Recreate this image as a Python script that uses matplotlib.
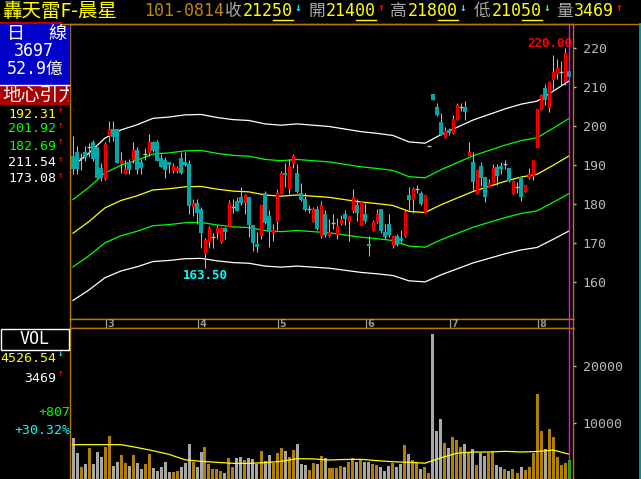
import numpy as np
import matplotlib
matplotlib.use("Agg")
import matplotlib.pyplot as plt
from matplotlib.patches import Rectangle
from matplotlib.transforms import Bbox, TransformedBbox

plt.rcParams['font.family'] = ['DejaVu Sans Mono', 'Noto Sans CJK TC']

# daily candles, 2012-02 .. 2012-08-14
opens = [192.3, 193.3, 191.7, 193.3, 194.7, 195.9, 194.7, 189.2, 186.7, 197.8,
         199.2, 199.2, 190.6, 187.9, 190.8, 191.6, 193.9, 190.8, 192.8, 193.2,
         195.9, 195.9, 191.8, 191.3, 190.8, 188.6, 188.6, 191.8, 190.8, 190.3,
         179.5, 180.2, 178.6, 167.4, 170.6, 171.4, 172.7, 170.6, 173.8, 174.4,
         179.1, 180.7, 181.9, 180.5, 181.7, 174.7, 169.7, 172.1, 182.9, 176.9,
         172.8, 175.7, 182.7, 187.9, 184.1, 190.6, 188.0, 182.7, 181.4, 178.8,
         175.7, 178.8, 172.0, 177.4, 172.1, 175.0, 172.3, 175.2, 177.3, 175.6,
         178.5, 179.8, 174.7, 177.4, 169.8, 173.2, 175.7, 178.6, 172.8, 174.9,
         169.6, 171.8, 171.3, 172.0, 182.2, 181.2, 183.8, 182.7, 177.9, 194.9,
         208.2, 204.8, 200.9, 197.3, 199.0, 198.1, 201.7, 204.8, 204.8, 192.6,
         190.8, 182.7, 189.7, 187.0, 184.6, 185.6, 189.4, 189.7, 190.2, 189.2,
         182.7, 184.4, 186.8, 183.2, 187.0, 187.3, 194.7, 204.3, 209.7, 204.8,
         212.1, 213.7, 213.8, 211.6, 214.0]
highs = [197.4, 194.9, 193.0, 194.9, 195.6, 196.4, 194.7, 190.4, 195.9, 201.4,
         201.2, 199.2, 193.2, 191.3, 191.5, 195.9, 194.5, 191.6, 194.4, 198.0,
         196.2, 196.4, 192.8, 192.0, 190.8, 190.4, 189.7, 193.2, 193.2, 191.3,
         181.4, 181.4, 179.3, 171.3, 174.4, 172.5, 174.7, 174.0, 174.0, 180.9,
         181.2, 181.7, 184.4, 182.6, 181.7, 174.7, 172.8, 179.8, 183.4, 178.5,
         174.9, 183.8, 188.4, 190.4, 191.5, 192.8, 190.3, 185.5, 182.9, 179.8,
         179.1, 179.5, 180.7, 178.5, 176.2, 177.4, 176.4, 177.1, 178.5, 176.9,
         183.9, 181.4, 180.5, 180.3, 171.8, 175.9, 178.6, 178.6, 174.9, 177.4,
         172.0, 172.3, 173.3, 178.6, 184.4, 184.4, 184.8, 183.3, 182.4, 194.9,
         208.2, 206.0, 203.4, 199.8, 199.6, 202.7, 206.0, 206.0, 206.5, 195.9,
         193.3, 188.7, 190.8, 187.0, 186.5, 190.2, 190.2, 190.8, 191.3, 189.2,
         186.1, 185.6, 187.0, 184.9, 189.2, 191.3, 204.4, 208.2, 210.8, 211.4,
         218.3, 217.1, 216.6, 220.0, 218.0]
lows = [187.7, 187.7, 188.6, 190.9, 192.1, 191.1, 186.7, 186.0, 186.2, 195.9,
        196.2, 190.6, 187.9, 187.7, 187.7, 190.4, 187.7, 187.7, 191.3, 192.3,
        193.3, 190.9, 189.4, 186.7, 187.9, 188.0, 187.9, 187.7, 189.7, 177.3,
        176.8, 174.9, 168.7, 163.5, 168.7, 168.7, 171.1, 170.1, 171.1, 174.2,
        177.8, 178.1, 179.7, 177.3, 171.6, 167.9, 167.7, 171.1, 174.9, 169.0,
        170.6, 173.2, 182.5, 184.4, 182.5, 189.1, 182.9, 180.7, 178.3, 177.8,
        175.5, 173.3, 171.3, 171.5, 171.5, 173.7, 171.1, 174.5, 174.7, 170.6,
        177.8, 175.6, 174.7, 175.0, 166.7, 173.0, 175.0, 172.5, 171.1, 171.5,
        168.7, 169.1, 170.3, 171.6, 178.5, 177.8, 182.7, 179.8, 177.6, 194.9,
        206.7, 202.6, 197.6, 196.8, 197.6, 197.9, 201.5, 203.9, 201.5, 192.5,
        183.6, 182.6, 184.6, 180.5, 184.4, 185.5, 184.8, 187.8, 189.0, 185.6,
        182.6, 182.9, 180.7, 183.1, 186.5, 186.1, 194.7, 204.1, 205.5, 203.6,
        209.6, 212.1, 210.6, 210.6, 210.5]
closes = [188.9, 188.9, 191.7, 192.0, 194.7, 191.6, 186.7, 186.7, 195.4, 199.2,
          197.1, 190.6, 191.3, 188.9, 188.6, 193.9, 188.6, 189.1, 192.8, 195.9,
          193.7, 191.1, 189.6, 188.6, 190.1, 189.7, 189.2, 187.9, 190.1, 179.5,
          180.2, 177.8, 172.5, 170.8, 173.8, 171.4, 173.8, 173.8, 172.7, 180.2,
          179.1, 178.3, 180.3, 182.2, 174.7, 170.1, 168.9, 179.7, 175.2, 172.8,
          173.3, 182.7, 187.9, 187.4, 189.7, 192.3, 183.1, 181.0, 178.5, 178.8,
          178.6, 173.7, 179.7, 172.1, 172.8, 175.0, 174.4, 175.9, 176.1, 176.9,
          181.7, 177.8, 180.5, 175.7, 169.1, 175.4, 177.4, 173.0, 171.6, 172.0,
          171.8, 169.6, 170.4, 178.0, 181.0, 183.8, 183.8, 180.0, 182.2, 194.9,
          206.7, 202.7, 197.8, 198.6, 198.1, 201.9, 205.3, 204.8, 203.7, 193.3,
          185.6, 188.7, 186.7, 181.7, 185.5, 189.2, 187.2, 189.0, 190.2, 185.8,
          185.8, 184.4, 181.7, 184.8, 187.8, 191.3, 204.3, 208.0, 206.7, 211.3,
          213.8, 214.9, 213.8, 218.6, 212.5]
volumes = [7370, 4680, 2340, 2810, 5610, 2810, 4910, 4090, 5850, 7720,
           2460, 3160, 4440, 3040, 2460, 4440, 3040, 1870, 2810, 4560,
           2100, 1640, 2340, 3160, 1400, 1400, 1640, 2340, 3040, 6310,
           3160, 2340, 4910, 5730, 2810, 1870, 1870, 1520, 1170, 3860,
           2340, 3860, 4090, 3510, 3860, 3740, 2810, 5030, 3390, 4330,
           3040, 4800, 5610, 5030, 3980, 5260, 6310, 2810, 2690, 1750,
           2920, 2810, 4210, 3860, 2100, 2100, 2100, 2460, 2340, 3160,
           3860, 3160, 3510, 3160, 3160, 2810, 2690, 2340, 1640, 2460,
           3040, 2340, 2810, 6200, 4560, 3510, 2920, 1990, 2340, 1170,
           25610, 8660, 10640, 6430, 5610, 7600, 7020, 5850, 6310, 4680,
           5380, 2690, 4680, 4210, 4680, 5140, 2690, 2220, 1990, 1520,
           1990, 1170, 2220, 1750, 2220, 4680, 15080, 8540, 5500, 9000,
           7600, 4090, 2570, 2920, 3469]

# moving averages read every 4th bar
ma_step = 4
price_ma = [172.5, 175.5, 179.0, 180.9, 182.1, 183.6, 183.9, 184.4, 184.5, 183.8,
            183.3, 183.1, 182.3, 182.0, 182.3, 182.0, 181.7, 181.1, 180.5, 180.1,
            179.6, 178.1, 177.8, 179.8, 181.5, 183.2, 184.5, 185.8, 186.9, 187.6,
            189.9, 192.31]
vol_ma = [6200, 6200, 6200, 6200, 5700, 5140, 4500, 3550, 3270, 3100,
          2920, 2920, 3040, 3270, 3740, 3700, 3510, 3600, 3620, 3400,
          3200, 3100, 2950, 3900, 4700, 4910, 4910, 5030, 4910, 5000,
          5260, 4526.54]
band_pct = [10, 5, 0, -5, -10]
band_colors = ['white', '#00ff00', '#ffff00', '#00ff00', 'white']
band_labels = ['192.31', '201.92', '182.69', '211.54', '173.08']
band_label_colors = ['#ffff00', '#00ff00', '#00ff00', 'white', 'white']

month_start = [8, 31, 51, 73, 94, 116]
month_labels = ['3', '4', '5', '6', '7', '8']
price_ticks = [160, 170, 180, 190, 200, 210, 220]
vol_ticks = [10000, 20000]

GOLD = '#b87800'
GRAY = '#b8b8b8'
TEAL = '#00a8a8'
RED = '#ff0000'
CYAN = '#00ffff'
YEL = '#ffff00'
CJK = ['Noto Sans CJK TC', 'DejaVu Sans']

W, H = 641, 479
fig = plt.figure(figsize=(W / 100, H / 100), dpi=100, facecolor='black')


def box(x0, y0, x1, y1):
    a = fig.add_axes([x0 / W, 1 - y1 / H, (x1 - x0) / W, (y1 - y0) / H])
    a.set_facecolor('black')
    for s in a.spines.values():
        s.set_color(GOLD)
        s.set_linewidth(1)
    a.set_xticks([])
    return a


o = np.array(opens)
h = np.array(highs)
l = np.array(lows)
c = np.array(closes)
v = np.array(volumes)
idx = np.arange(len(c))
ma_x = np.arange(len(price_ma)) * ma_step
xlim = (-0.75, 125.0)
last = idx[-1] + 0.1

# ---- price panel
ax = box(70, 24, 573, 319)
ax.set_xlim(xlim)
ax.set_ylim(150.5, 226.15)
up = c > o
dn = c < o
flat = c == o
ax.vlines(idx, l, h, color=GRAY, lw=0.75, zorder=2)
ax.bar(idx[up], (c - o)[up], bottom=o[up], width=0.7, facecolor='black',
       edgecolor=RED, lw=1.0, zorder=3)
ax.bar(idx[dn], (o - c)[dn], bottom=c[dn], width=0.82, color=TEAL, lw=0, zorder=3)
ax.hlines(c[flat], idx[flat] - 0.45, idx[flat] + 0.45, color=GRAY, lw=1, zorder=3)
for p, col in zip(band_pct, band_colors):
    ax.plot(ma_x, np.array(price_ma) * (1 + p / 100), color=col, lw=0.9, zorder=1)
ax.axvline(last, color='#ff00ff', lw=1, zorder=5)
ax.yaxis.tick_right()
ax.set_yticks(price_ticks)
ax.tick_params(axis='y', colors=GRAY, length=2, width=1, labelsize=9.5, pad=5)

lo_i = int(np.argmin(l))
ax.annotate(f"{l[lo_i]:.2f}", (lo_i, l[lo_i]), xytext=(0, -1), textcoords='offset pixels',
            ha='center', va='top', color=CYAN, fontsize=9, fontweight='bold')
hi_i = int(np.argmax(h))
ax.annotate(f"{h[hi_i]:.2f}", (hi_i, h[hi_i]), xytext=(7, -2), textcoords='offset pixels',
            ha='right', va='bottom', color=RED, fontsize=9, fontweight='bold')

# ---- month bar
axd = box(70, 319, 573, 328)
axd.set_xlim(xlim)
axd.set_ylim(0, 1)
axd.set_yticks([])
for m, lab in zip(month_start, month_labels):
    axd.vlines(m + 0.15, 0.05, 0.95, color='#a0a0a0', lw=0.9)
    axd.text(m + 0.6, 0.45, lab, color='#a0a0a0', fontsize=8, fontweight='bold',
             ha='left', va='center')
axd.axvline(last, color='#ff00ff', lw=1, zorder=5)

# ---- volume panel
axv = box(70, 328, 573, 479)
axv.set_xlim(xlim)
axv.set_ylim(175, 26667)
vcol = np.where(c >= o, '#b08000', '#a8a8a8')
vcol[-1] = '#00c000'
axv.bar(idx, v, width=0.75, color=vcol, lw=0, zorder=2)
axv.plot(ma_x, vol_ma, color=YEL, lw=0.9, zorder=3)
axv.axvline(last, color='#ff00ff', lw=1, zorder=5)
axv.yaxis.tick_right()
axv.set_yticks(vol_ticks)
axv.tick_params(axis='y', colors=GRAY, length=2, width=1, labelsize=9.5, pad=5)

# ---- overlay: header and left panel
ov = fig.add_axes([0, 0, 1, 1], zorder=10)
ov.set_xlim(0, W)
ov.set_ylim(H, 0)
ov.axis('off')
ov.patch.set_alpha(0)

ov.plot([61, W], [23.5, 23.5], color=GOLD, lw=1)
ov.plot([0, 61], [22.5, 22.5], color='#c00000', lw=1.5)
ov.plot([639.5, 639.5], [24, H], color='#00b0b0', lw=1.2)

ov.text(2, 11, '轟天雷F-晨星', color=YEL, fontsize=14, family=CJK, va='center')
ov.text(144, 11, '101-0814', color='#b8860b', fontsize=12, va='center')

cw = 10.03


def price_item(x, lab, val, arrow, acol, dec=True):
    ov.text(x, 11, lab, color='#a8a8a8', fontsize=12, family=CJK, va='center')
    xs = x + 18
    ov.text(xs, 11, val, color=YEL, fontsize=12, va='center')
    if dec:
        ov.plot([xs + 3 * cw, xs + 5 * cw], [19.5, 19.5], color=YEL, lw=1)
    ov.text(xs + len(val) * cw + 1, 8, arrow, color=acol, fontsize=8, va='center',
            fontweight='bold')


price_item(225, '收', f"{closes[-1]:.2f}".replace('.', ''), '↓', CYAN)
price_item(308, '開', f"{opens[-1]:.2f}".replace('.', ''), '↑', RED)
price_item(390, '高', f"{highs[-1]:.2f}".replace('.', ''), '↓', CYAN)
price_item(474, '低', f"{lows[-1]:.2f}".replace('.', ''), '↓', CYAN)
price_item(556, '量', str(volumes[-1]), '↑', RED, dec=False)

# left info boxes
ov.add_patch(Rectangle((0, 24), 69, 60, color='#0000c8', zorder=1))
ov.plot([0, 69], [84.5, 84.5], color='white', lw=1)
ov.text(16, 34, '日', color='white', fontsize=13, family=CJK, ha='center', va='center')
ov.text(57, 34, '線', color='white', fontsize=13, family=CJK, ha='center', va='center')
ov.text(34, 51, '3697', color='white', fontsize=12, ha='center', va='center')
ov.text(35, 69, '52.9億', color='white', fontsize=12, ha='center', va='center')
ov.add_patch(Rectangle((0, 86), 69, 18, color='#a80000', zorder=1))
t = ov.text(2, 95, '地心引力', color='white', fontsize=13.5, family=CJK, va='center')
t.set_clip_on(True)
t.set_clip_box(TransformedBbox(Bbox([[0, 86], [69, 104]]), ov.transData))

for k, (lab, col) in enumerate(zip(band_labels, band_label_colors)):
    yy = [114, 129, 146, 163, 179][k]
    ov.text(56, yy, lab, color=col, fontsize=9.5, ha='right', va='center')
    ov.text(58, yy - 4, '↑', color=RED, fontsize=6.5, va='center', fontweight='bold')

ov.add_patch(Rectangle((0.5, 328.5), 68.5, 21, fill=False, edgecolor='white', lw=1))
ov.text(35, 339, 'VOL', color='white', fontsize=12, ha='center', va='center')
ov.text(56, 358, f"{vol_ma[-1]:.2f}", color=YEL, fontsize=9.5, ha='right', va='center')
ov.text(58, 354, '↓', color=CYAN, fontsize=6.5, va='center', fontweight='bold')
ov.text(56, 378, str(volumes[-1]), color='white', fontsize=9.5, ha='right', va='center')
ov.text(58, 374, '↑', color=RED, fontsize=6.5, va='center', fontweight='bold')
ov.text(70, 413, '+807', color='#00ff00', fontsize=9.5, ha='right', va='center')
ov.text(70, 430, '+30.32%', color=CYAN, fontsize=9.5, ha='right', va='center')

fig.savefig('out.png', dpi=100, facecolor='black')
